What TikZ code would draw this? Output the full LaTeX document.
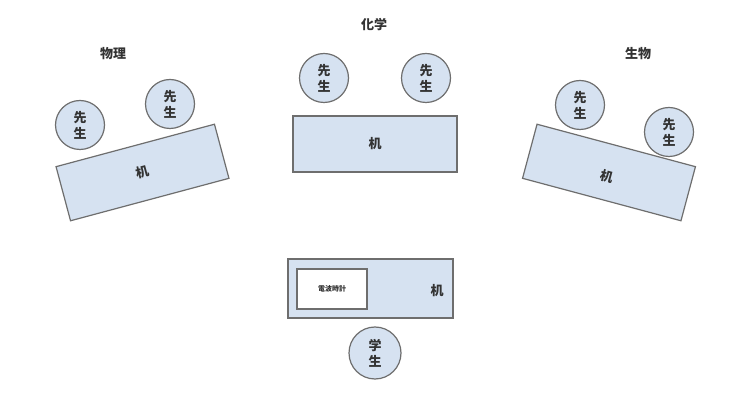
\documentclass[tikz,border=0pt]{standalone}
\usepackage{fontspec}
\newfontfamily\jp{Noto Sans CJK JP}
\definecolor{deskfill}{HTML}{D6E2F1}
\definecolor{edge}{HTML}{6E6E6E}
\begin{document}
\begin{tikzpicture}[x=1pt,y=-1pt,
  desk/.style={draw=edge,fill=deskfill,line width=1.2pt,minimum width=164pt,minimum height=56pt,inner sep=0pt,font=\jp\bfseries\fontsize{13}{13}\selectfont,text=black!80},
  person/.style={circle,draw=edge,fill=deskfill,line width=1.2pt,minimum size=49pt,inner sep=0pt,align=center,font=\jp\bfseries\fontsize{13}{16}\selectfont,text=black!80},
  lbl/.style={font=\jp\bfseries\fontsize{13}{13}\selectfont,inner sep=0pt,text=black!80}]
\useasboundingbox[fill=white] (0,0) rectangle (750,411);
% left group
\node[lbl] (phys) at (113,54) {物理};
\node[desk,rotate=15] (deskL) at (142.5,172.5) {机};
\node[person] (tL1) at (80,125) {先\\生};
\node[person] (tL2) at (170,104) {先\\生};
% center group
\node[lbl] (chem) at (374,25) {化学};
\node[desk] (deskC) at (375,144) {机};
\node[person] (tC1) at (324,78) {先\\生};
\node[person] (tC2) at (426,78) {先\\生};
% right group
\node[lbl] (bio) at (638,54) {生物};
\node[desk,rotate=-15] (deskR) at (609,172.5) {};
\node[lbl,rotate=-15] (deskRtext) at (607,176) {机};
\node[person] (tR1) at (580,105) {先\\生};
\node[person] (tR2) at (669,132) {先\\生};
% bottom group
\node[desk,minimum width=165pt,minimum height=59pt] (deskB) at (370.5,288.5) {};
\node[draw=edge,fill=white,line width=1.2pt,minimum width=70pt,minimum height=40pt,inner sep=0pt,font=\jp\bfseries\fontsize{7}{7}\selectfont,text=black!80] (clock) at (332,289) {電波時計};
\node[lbl] (deskBtext) at (437,291) {机};
\node[person,minimum size=52pt] (student) at (375,353) {学\\生};
\end{tikzpicture}
\end{document}
